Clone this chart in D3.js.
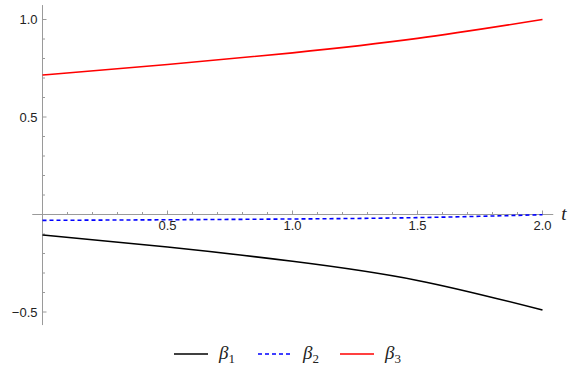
<!DOCTYPE html>
<html>
<head>
<meta charset="utf-8">
<script src="https://cdn.jsdelivr.net/npm/d3@7"></script>
<style>
  html, body { margin: 0; padding: 0; background: #fff; }
  svg { display: block; }
</style>
</head>
<body>
<svg id="chart" width="568" height="371"></svg>
<script>
// sample times and coefficient values
const tValues = [0, 0.5, 1.0, 1.5, 2.0];
const beta1 = [-0.105, -0.167, -0.240, -0.338, -0.490];
const beta2 = [-0.030, -0.027, -0.023, -0.016, -0.001];
const beta3 = [0.715, 0.769, 0.829, 0.903, 1.000];

const xMajorTicks = [0.5, 1.0, 1.5, 2.0];
const yMajorTicks = [-0.5, 0.5, 1.0];
const seriesNames = ["1", "2", "3"];

const svg = d3.select("#chart");

const x = d3.scaleLinear().domain([0, 2]).range([42.5, 542.5]);
const y = d3.scaleLinear().domain([0, 1]).range([214.5, 19.5]);

const axisColor = "#9a9a9a";
const labelColor = "#222";
const sansFont = "'Liberation Sans', Arial, sans-serif";
const serifFont = "'Liberation Serif', 'DejaVu Serif', serif";

// axes extents
const xMin = -0.041, xMax = 2.043;
const yMin = -0.567, yMax = 1.074;

const g = svg.append("g");

// x axis line
g.append("line")
  .attr("x1", x(xMin)).attr("x2", x(xMax))
  .attr("y1", y(0)).attr("y2", y(0))
  .attr("stroke", axisColor).attr("stroke-width", 1);
// y axis line
g.append("line")
  .attr("x1", x(0)).attr("x2", x(0))
  .attr("y1", y(yMin)).attr("y2", y(yMax))
  .attr("stroke", axisColor).attr("stroke-width", 1);

const isMajor = d => Math.abs(d * 2 - Math.round(d * 2)) < 1e-6;

// x ticks (every 0.1, major every 0.5)
const xTicks = d3.range(1, 21).map(i => i / 10);
g.selectAll(".xt").data(xTicks).join("line")
  .attr("x1", d => x(d)).attr("x2", d => x(d))
  .attr("y1", y(0)).attr("y2", d => y(0) - (isMajor(d) ? 4 : 2.5))
  .attr("stroke", axisColor).attr("stroke-width", 1);

// y ticks
const yTicks = d3.range(-5, 11).filter(i => i !== 0).map(i => i / 10);
g.selectAll(".yt").data(yTicks).join("line")
  .attr("y1", d => y(d)).attr("y2", d => y(d))
  .attr("x1", x(0)).attr("x2", d => x(0) + (isMajor(d) ? 4 : 2.5))
  .attr("stroke", axisColor).attr("stroke-width", 1);

const fmt = d3.format(".1f");
g.selectAll(".xl").data(xMajorTicks).join("text")
  .attr("x", d => x(d)).attr("y", y(0) + 15.5)
  .attr("text-anchor", "middle")
  .attr("font-family", sansFont)
  .attr("font-size", 13).attr("fill", labelColor)
  .text(fmt);

g.selectAll(".yl").data(yMajorTicks).join("text")
  .attr("x", x(0) - 5).attr("y", d => y(d) + 4.5)
  .attr("text-anchor", "end")
  .attr("font-family", sansFont)
  .attr("font-size", 13).attr("fill", labelColor)
  .text(d => (d < 0 ? "\u2212" : "") + fmt(Math.abs(d)));

// axis label t
g.append("text")
  .attr("x", x(xMax) + 8).attr("y", y(0) + 5)
  .attr("font-family", serifFont)
  .attr("font-style", "italic")
  .attr("font-size", 19).attr("fill", "#222")
  .text("t");

const series = [
  { values: beta1, color: "#000", dash: null },
  { values: beta2, color: "#0000ff", dash: "4,3" },
  { values: beta3, color: "#ff0000", dash: null }
];

const line = d3.line()
  .x(d => x(d[0])).y(d => y(d[1]))
  .curve(d3.curveNatural);

g.selectAll(".curve").data(series).join("path")
  .attr("d", s => line(tValues.map((t, i) => [t, s.values[i]])))
  .attr("fill", "none")
  .attr("stroke", s => s.color)
  .attr("stroke-width", 1.6)
  .attr("stroke-dasharray", s => s.dash);

// legend
const legendX = [174, 258, 340];
const legendY = 354;
const lg = svg.append("g");
series.forEach((s, i) => {
  lg.append("line")
    .attr("x1", legendX[i]).attr("x2", legendX[i] + 34)
    .attr("y1", legendY).attr("y2", legendY)
    .attr("stroke", s.color).attr("stroke-width", 1.6)
    .attr("stroke-dasharray", s.dash);
  const t = lg.append("text")
    .attr("x", legendX[i] + 45).attr("y", legendY + 5)
    .attr("font-family", serifFont)
    .attr("font-size", 19).attr("fill", "#222");
  t.append("tspan").attr("font-style", "italic").text("\u03b2");
  t.append("tspan").attr("font-size", 13).attr("dy", 4).text(seriesNames[i]);
});
</script>
</body>
</html>
